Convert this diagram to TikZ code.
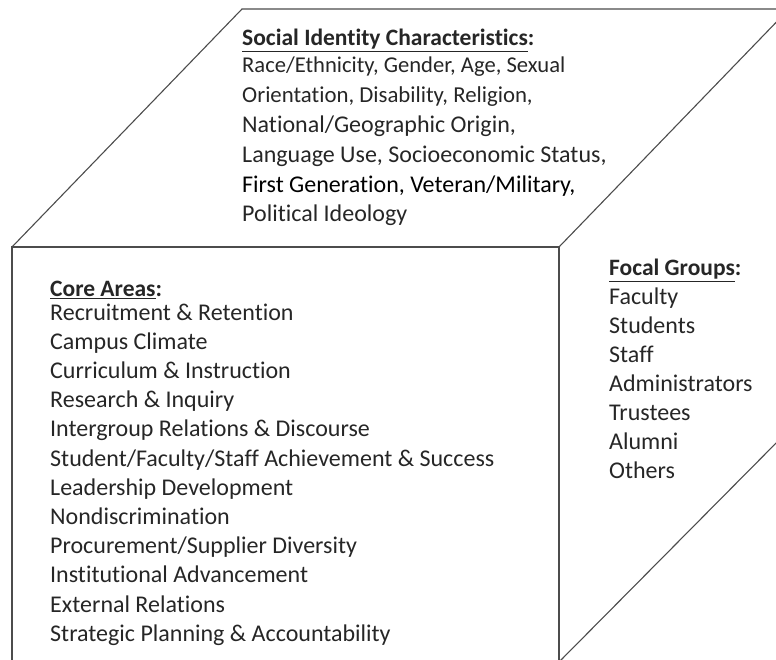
\documentclass[tikz,border=0pt]{standalone}
\usepackage{fontspec}
\setmainfont{Carlito}[Ligatures=NoCommon]

\tikzset{
  edge/.style={draw=black!70, line width=1.1pt},
  item/.style={anchor=base west, inner sep=0pt, text=black!85,
    font=\fontsize{24}{29}\selectfont},
  heading/.style={item, font=\fontsize{23.5}{28}\selectfont\bfseries},
}

\begin{document}
\begin{tikzpicture}[x=1pt, y=-1pt]
    \useasboundingbox (0,0) rectangle (776,660);

    % corners of the box
    \coordinate (ftl) at (12,247);
    \coordinate (ftr) at (559,247);
    \coordinate (fbl) at (12,662);
    \coordinate (fbr) at (559,662);
    \coordinate (btl) at (242,9);
    \coordinate (btr) at (789,9);
    \coordinate (bbr) at (789,430);

    \begin{scope}
    \clip (0,0) rectangle (776,660);
    \draw[edge] (fbl) -- (ftl) -- (ftr) -- (fbr) -- cycle;
    \draw[edge] (ftl) -- (btl) -- (btr) -- (ftr);
    \draw[edge] (fbr) -- (bbr) -- (btr);
    \end{scope}

    % top face
    \node[heading] (identity) at (242,46) {\underline{Social Identity Characteristics}:};
    \foreach \txt [count=\i from 0] in {%
        {\fontsize{22.6}{29}\selectfont Race/Ethnicity, Gender, Age, Sexual},
        {\fontsize{22.8}{29}\selectfont Orientation, Disability, Religion,},
        {National/Geographic Origin,},
        {Language Use, Socioeconomic Status,},
        {\color{black}First Generation, Veteran/Military,},
        {Political Ideology}}
    \node[item] (identity\i) at (242,{73+29.8*\i}) {\txt};

    % front face
    \node[heading] (core) at (50,297) {\underline{Core Areas}:};
    \foreach \txt [count=\i from 0] in {%
        Recruitment \& Retention,
        Campus Climate,
        Curriculum \& Instruction,
        Research \& Inquiry,
        Intergroup Relations \& Discourse,
        Student/Faculty/Staff Achievement \& Success,
        Leadership Development,
        Nondiscrimination,
        Procurement/Supplier Diversity,
        Institutional Advancement,
        External Relations,
        Strategic Planning \& Accountability}
    \node[item] (core\i) at (50,{320+29.2*\i}) {\txt};

    % side face
    \node[heading] (focal) at (609,276) {\underline{Focal Groups}:};
    \foreach \txt [count=\i from 0] in {Faculty, Students, Staff,
        Administrators, Trustees, Alumni, Others}
    \node[item] (focal\i) at (609,{304+29*\i}) {\txt};

\end{tikzpicture}
\end{document}
